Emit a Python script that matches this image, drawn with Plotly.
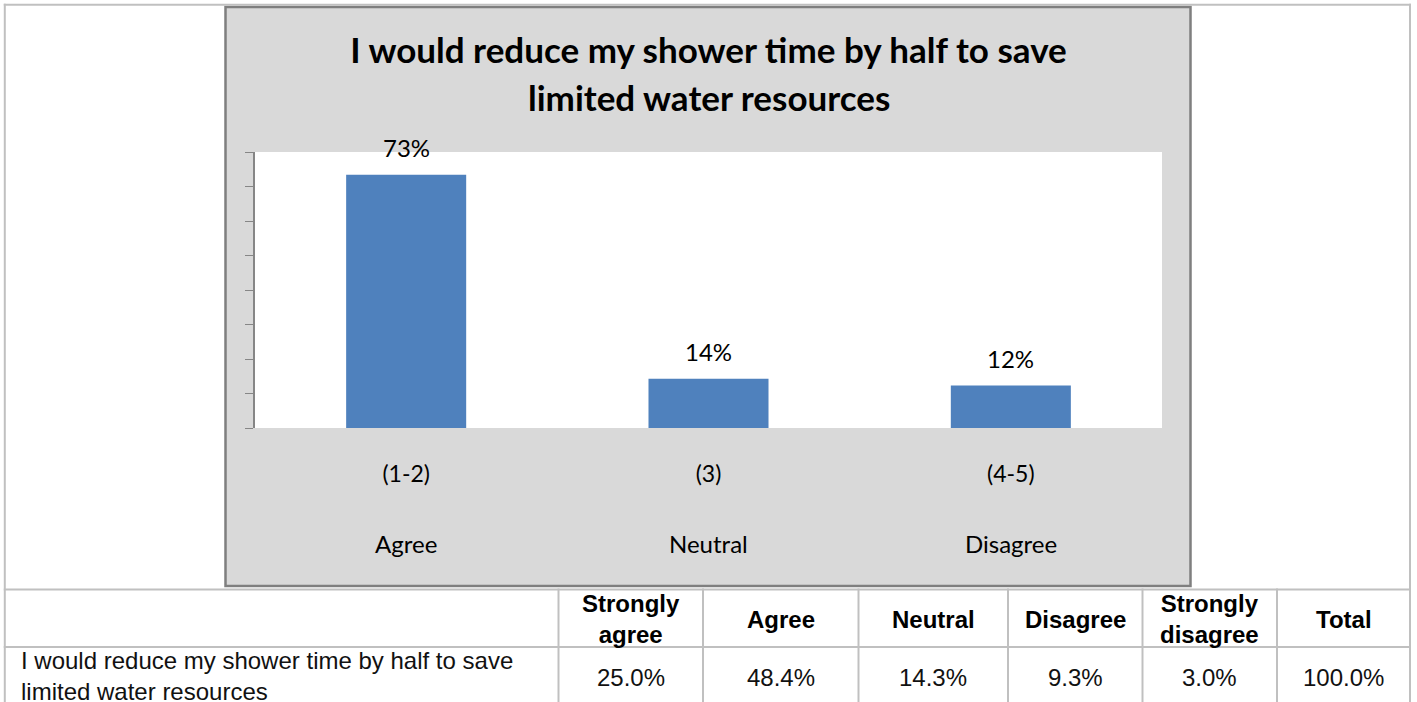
import plotly.graph_objects as go

# ---------------- data ----------------
categories = ["(1-2)", "(3)", "(4-5)"]
category_names = ["Agree", "Neutral", "Disagree"]
shares = [0.734, 0.143, 0.123]
title_lines = ["I would reduce my shower time by half to save", "limited water resources"]

table_header = ["", "Strongly<br>agree", "Agree", "Neutral", "Disagree", "Strongly<br>disagree", "Total"]
table_row_label = "I would reduce my shower time by half to save<br>limited water resources"
table_row_values = ["25.0%", "48.4%", "14.3%", "9.3%", "3.0%", "100.0%"]

# ---------------- layout geometry (pixels) ----------------
W, H = 1417, 702
PL, PR, PT, PB = 255, 1162, 152, 428
col_edges = [4.8, 558.5, 703, 858.5, 1008, 1142.5, 1277, 1410]
row_edges = [4.7, 589.5, 647, 707]


def xp(px):
    return (px - PL) / (PR - PL)


def yp(py):
    return (PB - py) / (PB - PT)


CHART_FONT = "Lato"
TABLE_FONT = "Liberation Sans"

fig = go.Figure()
fig.add_trace(go.Bar(
    x=categories, y=shares, marker=dict(color="#4f81bd", line=dict(width=0)),
    hoverinfo="skip", showlegend=False,
))

shapes = []
# chart frame (grey) and white plot area
shapes.append(dict(type="rect", xref="paper", yref="paper", layer="below",
                   x0=xp(225.5), x1=xp(1190.5), y0=yp(586), y1=yp(7),
                   fillcolor="#d9d9d9", line=dict(color="#7f7f7f", width=2.5)))
shapes.append(dict(type="rect", xref="paper", yref="paper", layer="below",
                   x0=0, x1=1, y0=0, y1=1, fillcolor="white", line=dict(width=0)))
# table grid
tl = dict(color="#c0c0c0", width=2)
for ry in row_edges[:3]:
    shapes.append(dict(type="line", xref="paper", yref="paper",
                       x0=xp(col_edges[0] - 1), x1=xp(col_edges[-1] + 1), y0=yp(ry), y1=yp(ry), line=tl))
for i, cx in enumerate(col_edges):
    top = row_edges[0] if i in (0, len(col_edges) - 1) else row_edges[1]
    shapes.append(dict(type="line", xref="paper", yref="paper",
                       x0=xp(cx), x1=xp(cx), y0=yp(top - 1), y1=yp(H + 2), line=tl))

annotations = []
# title second line
annotations.append(dict(text=title_lines[1], xref="paper", yref="paper", x=0.5, y=yp(97),
                        xanchor="center", yanchor="middle", showarrow=False,
                        font=dict(family=CHART_FONT, size=35, color="black", weight="bold")))
# data labels
for c, v in zip(categories, shares):
    annotations.append(dict(text=f"{v:.0%}", x=c, y=v, xref="x", yref="y", yshift=27,
                            xanchor="center", yanchor="middle", showarrow=False,
                            font=dict(family=CHART_FONT, size=24, color="black")))
# category names under tick labels
for c, n in zip(categories, category_names):
    annotations.append(dict(text=n, x=c, y=yp(543), xref="x", yref="paper",
                            xanchor="center", yanchor="middle", showarrow=False,
                            font=dict(family=CHART_FONT, size=24, color="black")))
# table header
hy = (row_edges[1] + row_edges[2]) / 2
for i, h in enumerate(table_header):
    if not h:
        continue
    cx = (col_edges[i] + col_edges[i + 1]) / 2
    annotations.append(dict(text=h, x=xp(cx), y=yp(hy + 1), xref="paper", yref="paper",
                            xanchor="center", yanchor="middle", showarrow=False,
                            font=dict(family=TABLE_FONT, size=24, color="black", weight="bold")))
# table row
ry = 676
annotations.append(dict(text=table_row_label, x=xp(19), y=yp(ry), xref="paper", yref="paper",
                        xanchor="left", yanchor="middle", align="left", showarrow=False,
                        font=dict(family=TABLE_FONT, size=24, color="#111111")))
for i, v in enumerate(table_row_values):
    cx = (col_edges[i + 1] + col_edges[i + 2]) / 2
    annotations.append(dict(text=v, x=xp(cx), y=yp(ry + 1), xref="paper", yref="paper",
                            xanchor="center", yanchor="middle", showarrow=False,
                            font=dict(family=TABLE_FONT, size=24, color="#111111")))

fig.update_layout(
    width=W, height=H, autosize=False,
    margin=dict(l=PL, r=W - PR, t=PT, b=H - PB, pad=0),
    paper_bgcolor="white", plot_bgcolor="white",
    bargap=0.603,
    title=dict(text=title_lines[0], x=0.5, xref="paper", xanchor="center",
               y=1 - 51 / H, yref="container", yanchor="middle",
               font=dict(family=CHART_FONT, size=35, color="black", weight="bold")),
    xaxis=dict(showline=False, ticks="", showgrid=False, zeroline=False,
               tickfont=dict(family=CHART_FONT, size=23, color="black"),
               ticklabelstandoff=30),
    yaxis=dict(range=[0, 0.8], tick0=0, dtick=0.1, showticklabels=False,
               ticks="outside", ticklen=8, tickwidth=1.3, tickcolor="#868686",
               showline=True, linecolor="#868686", linewidth=2,
               showgrid=False, zeroline=False),
    shapes=shapes, annotations=annotations,
)

fig.write_html("out.html", config={"displayModeBar": False},
               post_script="document.body.style.margin='0px';document.body.style.overflow='hidden';")
